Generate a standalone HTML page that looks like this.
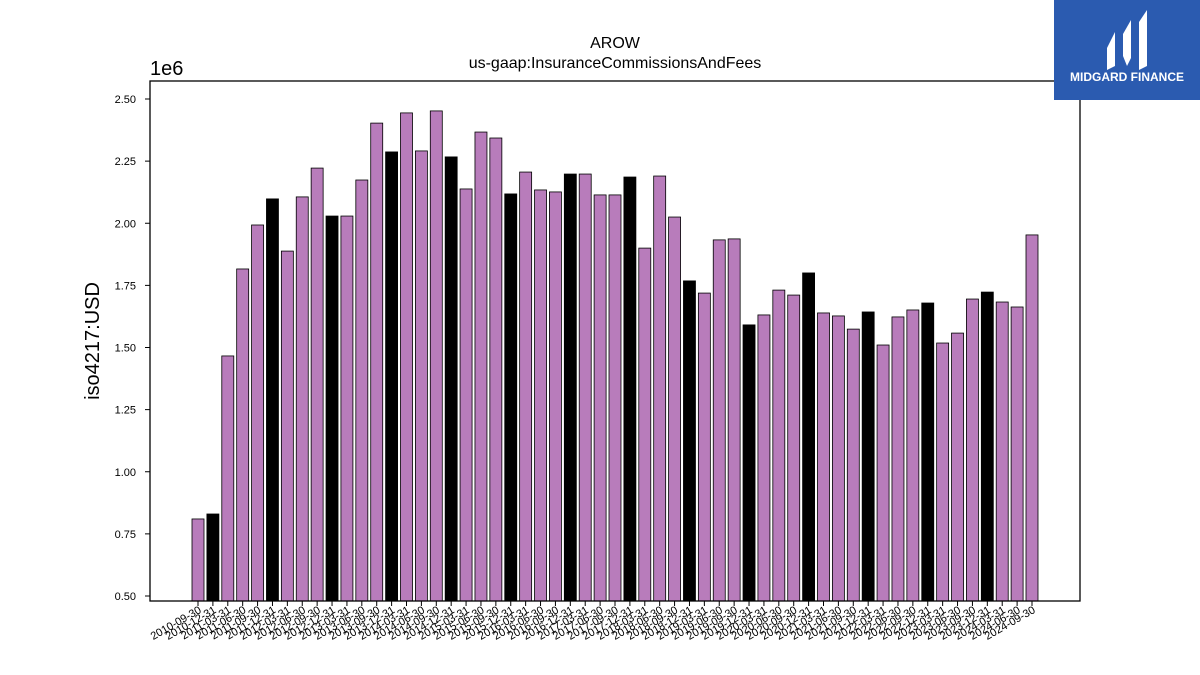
<!DOCTYPE html>
<html><head><meta charset="utf-8"><style>
body{margin:0;background:#fff;font-family:"Liberation Sans","DejaVu Sans",sans-serif;}
#wrap{position:relative;width:1200px;height:675px;overflow:hidden;}
</style></head><body><div id="wrap">
<svg id="chart" width="1200" height="675" xmlns="http://www.w3.org/2000/svg">
<text x="615" y="48" text-anchor="middle" font-size="16">AROW</text>
<text x="615" y="68" text-anchor="middle" font-size="16">us-gaap:InsuranceCommissionsAndFees</text>
<text x="150" y="75" font-size="20">1e6</text>
<text transform="translate(99,341) rotate(-90)" text-anchor="middle" font-size="20">iso4217:USD</text>
<g id="bars"></g><g id="yaxis"></g><g id="xaxis"></g>
<rect x="150" y="81" width="930" height="520" fill="none" stroke="#000" stroke-width="1.3"/>
<g>
<rect x="1054" y="0" width="146" height="100" fill="#2b5bb0"/>
<path d="M1107 48 L1115 32 L1115 66 L1107 70 Z" fill="#fff"/>
<path d="M1123 34 L1131 20 L1131 58 L1127 66 L1123 56 Z" fill="#fff"/>
<path d="M1139 22 L1147 10 L1147 66 L1139 70 Z" fill="#fff"/>
<text x="1127" y="81" text-anchor="middle" font-size="12" font-weight="bold" fill="#fff">MIDGARD FINANCE</text>
</g>
</svg></div>
<script>
const dates=["2010-09-30","2010-12-31","2011-03-31","2011-06-30","2011-09-30","2011-12-31","2012-03-31","2012-06-30","2012-09-30","2012-12-31","2013-03-31","2013-06-30","2013-09-30","2013-12-31","2014-03-31","2014-06-30","2014-09-30","2014-12-31","2015-03-31","2015-06-30","2015-09-30","2015-12-31","2016-03-31","2016-06-30","2016-09-30","2016-12-31","2017-03-31","2017-06-30","2017-09-30","2017-12-31","2018-03-31","2018-06-30","2018-09-30","2018-12-31","2019-03-31","2019-06-30","2019-09-30","2019-12-31","2020-03-31","2020-06-30","2020-09-30","2020-12-31","2021-03-31","2021-06-30","2021-09-30","2021-12-31","2022-03-31","2022-06-30","2022-09-30","2022-12-31","2023-03-31","2023-06-30","2023-09-30","2023-12-31","2024-03-31","2024-06-30","2024-09-30"];
const values=[0.81,0.83,1.466,1.816,1.993,2.098,1.888,2.106,2.222,2.029,2.029,2.174,2.403,2.287,2.444,2.291,2.452,2.267,2.138,2.367,2.343,2.118,2.206,2.134,2.126,2.198,2.198,2.114,2.114,2.186,1.90,2.19,2.025,1.768,1.719,1.933,1.937,1.591,1.631,1.731,1.711,1.80,1.639,1.627,1.574,1.643,1.510,1.623,1.651,1.679,1.518,1.558,1.695,1.723,1.683,1.663,1.953];
const yTicks=[0.5,0.75,1.0,1.25,1.5,1.75,2.0,2.25,2.5];
const NS="http://www.w3.org/2000/svg";
function y(v){return 99+(2.5-v)*248.5;}
function x(i){return 198+i*(1032-198)/(dates.length-1);}
const bars=document.getElementById('bars'),ya=document.getElementById('yaxis'),xa=document.getElementById('xaxis');
values.forEach((v,i)=>{
 const r=document.createElementNS(NS,'rect');
 
 
 r.setAttribute('x',x(i)-6);r.setAttribute('width',12);
 r.setAttribute('y',y(v));r.setAttribute('height',601-y(v));
 const mm=dates[i].slice(5,7);
 r.setAttribute('fill',mm==='12'?'#000':'#b87cbb');
 r.setAttribute('stroke','#000');r.setAttribute('stroke-width','0.8');
 bars.appendChild(r);
 const t=document.createElementNS(NS,'line');
 
 
 t.setAttribute('x1',x(i));t.setAttribute('x2',x(i));t.setAttribute('y1',601);t.setAttribute('y2',606);t.setAttribute('stroke','#000');
 xa.appendChild(t);
 const l=document.createElementNS(NS,'text');
 
 
 l.setAttribute('transform','translate('+(x(i)+4)+',612) rotate(-30)');
 l.setAttribute('text-anchor','end');l.setAttribute('font-size','11');
 l.textContent=dates[i];xa.appendChild(l);
});
yTicks.forEach(v=>{
 const t=document.createElementNS(NS,'line');
 
 
 t.setAttribute('x1',145);t.setAttribute('x2',150);t.setAttribute('y1',y(v));t.setAttribute('y2',y(v));t.setAttribute('stroke','#000');
 ya.appendChild(t);
 const l=document.createElementNS(NS,'text');
 
 
 l.setAttribute('x',136);l.setAttribute('y',y(v)+4);l.setAttribute('text-anchor','end');l.setAttribute('font-size','11');
 l.textContent=v.toFixed(2);ya.appendChild(l);
});
</script></body></html>
